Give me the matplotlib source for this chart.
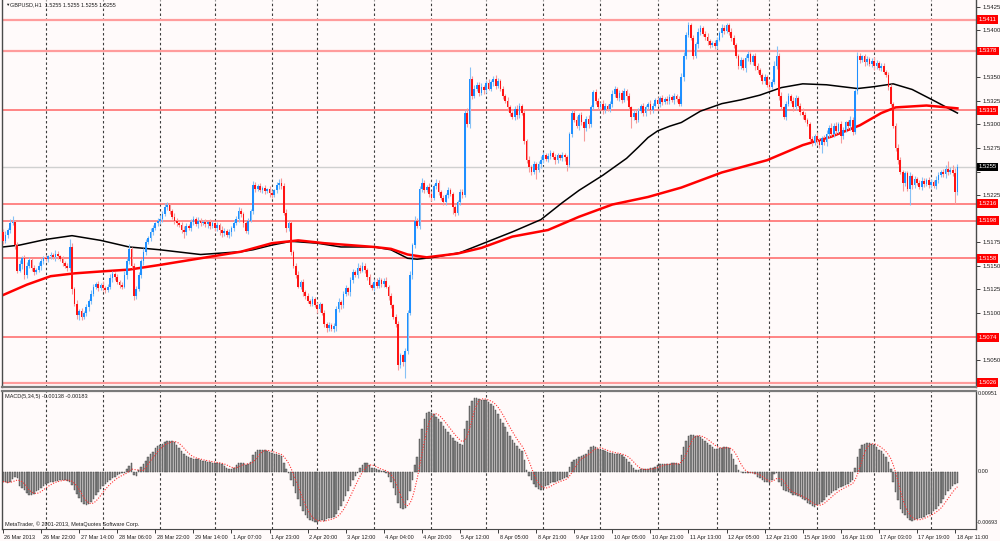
import numpy as np
import pandas as pd
import matplotlib
matplotlib.use("Agg")
from matplotlib import pyplot as plt
import matplotlib.transforms as mtransforms

plt.rcParams['font.family'] = ['Liberation Sans', 'DejaVu Sans']

# hourly closes of GBPUSD, in pips above 1.5000 (bar 0 = 26 Mar 2013 06:00)
first_open = 186
close_pips = [
    176, 183, 188, 195, 197, 172, 145, 152, 158, 140,
    150, 156, 148, 143, 146, 150, 155, 158, 157, 160,
    162, 159, 163, 160, 157, 153, 150, 148, 170, 125,
    110, 98, 102, 96, 100, 106, 113, 120, 128, 131,
    126, 130, 127, 124, 128, 137, 141, 138, 133, 130,
    128, 140, 155, 168, 150, 118, 125, 140, 155, 165,
    175, 180, 186, 190, 195, 198, 200, 205, 212, 214,
    208, 202, 198, 195, 193, 188, 186, 192, 190, 196,
    200, 194, 198, 195, 197, 194, 196, 192, 195, 190,
    193, 188, 185, 187, 183, 186, 190, 195, 200, 208,
    205, 195, 187, 198, 208, 236, 232, 235, 230, 233,
    229, 231, 227, 225, 230, 236, 238, 235, 206, 190,
    195, 165, 150, 140, 128, 133, 122, 118, 113, 110,
    115, 108, 104, 109, 100, 88, 84, 87, 83, 86,
    104, 112, 108, 120, 126, 122, 135, 143, 140, 148,
    145, 150, 146, 138, 130, 127, 133, 129, 135, 131,
    134, 128, 118, 108, 96, 88, 45, 55, 48, 60,
    100, 140, 172, 198, 192, 232, 238, 230, 234, 226,
    222, 235, 238, 228, 222, 218, 225, 230, 226, 212,
    206, 218, 228, 225, 312, 300, 348, 330, 338, 342,
    333, 340, 336, 344, 338, 345, 348, 341, 346, 338,
    330, 325, 318, 312, 308, 316, 310, 320, 312, 282,
    262, 255, 250, 258, 252, 258, 262, 268, 263, 266,
    270, 265, 262, 267, 264, 268, 265, 257, 290, 312,
    305, 298, 310, 302, 296, 306, 300, 318, 334, 325,
    318, 322, 315, 320, 316, 322, 332, 338, 328, 333,
    326, 335, 330, 318, 308, 312, 305, 314, 320, 312,
    318, 322, 315, 320, 326, 322, 328, 324, 327, 325,
    329, 326, 330, 327, 322, 350, 372, 395, 405, 392,
    372, 385, 398, 402, 396, 393, 388, 384, 386, 383,
    390, 397, 402, 399, 405, 398, 392, 384, 372, 362,
    368, 360, 370, 375, 366, 372, 362, 358, 352, 346,
    350, 342, 340, 345, 362, 373, 330, 318, 308, 322,
    330, 325, 318, 328, 320, 313, 310, 305, 300, 285,
    280, 288, 283, 278, 286, 281, 290, 296, 290, 298,
    293, 300, 288, 294, 302, 298, 305, 292, 335, 372,
    368, 372, 366, 369, 364, 367, 362, 365, 360, 362,
    356, 352, 340, 322, 298, 275, 262, 250, 238, 248,
    232, 245, 236, 242, 238, 234, 240, 237, 241, 236,
    239, 235, 241, 246, 250, 247, 253, 249, 252, 248,
    228, 255,
]

# upper / lower shadow lengths in pips
up_wick = [
    3, 4, 2, 5, 6, 2, 3, 4, 2, 3,  4, 3, 2, 3, 2, 4, 3, 2, 3, 2,
    3, 2, 4, 3, 2, 3, 2, 3, 8, 4,  3, 4, 2, 3, 2, 3, 2, 4, 3, 2,
    3, 2, 4, 2, 3, 4, 3, 2, 3, 2,  3, 4, 3, 5, 2, 3, 4, 3, 2, 4,
    3, 2, 4, 3, 2, 3, 4, 3, 5, 4,  3, 2, 4, 3, 2, 3, 4, 3, 2, 4,
    3, 2, 4, 3, 2, 3, 2, 4, 3, 2,  3, 2, 4, 3, 2, 3, 2, 4, 3, 4,
    3, 2, 4, 3, 2, 4, 3, 2, 3, 2,  3, 2, 4, 3, 2, 3, 4, 5, 3, 4,
    3, 4, 2, 3, 4, 2, 3, 2, 3, 2,  3, 2, 4, 3, 2, 3, 2, 3, 2, 3,
    3, 4, 2, 3, 4, 2, 3, 4, 3, 5,  3, 4, 3, 2, 3, 2, 3, 4, 3, 2,
    3, 4, 2, 3, 2, 3, 4, 3, 2, 3,  3, 4, 2, 5, 3, 3, 5, 3, 2, 4,
    3, 2, 4, 3, 2, 3, 2, 4, 3, 2,  3, 2, 4, 3, 3, 5, 13, 3, 4, 3,
    3, 4, 2, 3, 4, 2, 3, 4, 3, 2,  3, 2, 4, 3, 2, 4, 5, 3, 2, 3,
    3, 4, 2, 3, 2, 3, 4, 3, 2, 4,  3, 2, 4, 3, 2, 3, 2, 3, 2, 3,
    3, 4, 2, 3, 2, 3, 4, 3, 2, 3,  3, 2, 4, 3, 2, 3, 4, 3, 2, 3,
    3, 4, 2, 3, 2, 3, 4, 3, 2, 3,  3, 2, 4, 3, 2, 3, 2, 3, 2, 3,
    3, 2, 3, 2, 3, 4, 5, 3, 4, 3,  3, 2, 4, 3, 2, 3, 4, 3, 2, 3,
    3, 2, 4, 3, 3, 2, 4, 3, 2, 3,  3, 2, 4, 3, 2, 3, 4, 3, 2, 3,
    3, 2, 4, 3, 5, 10, 3, 4, 2, 3,  3, 2, 4, 3, 2, 3, 4, 3, 2, 3,
    3, 2, 4, 3, 2, 3, 4, 3, 5, 3,  4, 2, 4, 3, 2, 3, 4, 3, 2, 5,
    4, 2, 3, 3, 2, 3, 4, 3, 2, 3,  3, 2, 4, 3, 2, 3, 4, 3, 2, 3,
    3, 4, 2, 3, 2, 3, 4, 3, 2, 3,  3, 2, 4, 3, 2, 3, 4, 8, 3, 5,
    6, 3,
]
down_wick = [
    3, 2, 4, 3, 2, 4, 3, 2, 5, 4,  3, 2, 4, 3, 2, 3, 4, 3, 2, 3,
    3, 2, 4, 3, 2, 3, 2, 3, 4, 5,  3, 4, 5, 3, 2, 3, 4, 3, 2, 3,
    3, 2, 4, 3, 2, 3, 4, 3, 2, 3,  3, 2, 4, 3, 2, 4, 3, 2, 3, 4,
    3, 2, 4, 3, 2, 3, 4, 3, 2, 3,  3, 2, 4, 3, 2, 3, 7, 3, 2, 3,
    3, 2, 4, 3, 2, 3, 4, 3, 2, 3,  3, 5, 4, 3, 2, 3, 4, 3, 2, 3,
    3, 4, 2, 3, 2, 3, 4, 3, 2, 3,  3, 2, 4, 3, 2, 3, 4, 3, 2, 4,
    3, 4, 2, 3, 2, 3, 4, 3, 2, 3,  3, 2, 4, 3, 2, 3, 4, 3, 2, 3,
    5, 3, 4, 3, 2, 3, 4, 3, 2, 3,  3, 2, 4, 3, 2, 3, 4, 3, 2, 3,
    3, 2, 4, 3, 2, 3, 6, 3, 4, 17,  3, 2, 4, 3, 2, 3, 4, 3, 2, 3,
    3, 2, 4, 3, 2, 3, 4, 3, 2, 7,  3, 2, 4, 3, 2, 3, 4, 3, 2, 3,
    3, 2, 4, 3, 2, 3, 4, 3, 2, 3,  3, 2, 4, 3, 2, 3, 4, 3, 2, 3,
    3, 5, 4, 3, 10, 3, 4, 3, 2, 3,  3, 2, 4, 3, 2, 3, 4, 6, 2, 3,
    3, 2, 4, 3, 14, 3, 4, 3, 2, 3,  3, 2, 4, 3, 2, 3, 4, 3, 2, 3,
    3, 2, 4, 3, 12, 3, 4, 3, 2, 3,  3, 2, 4, 3, 2, 3, 4, 3, 2, 3,
    3, 2, 4, 3, 2, 3, 4, 3, 2, 3,  3, 2, 4, 3, 2, 3, 4, 3, 2, 3,
    3, 2, 4, 3, 2, 3, 4, 3, 2, 3,  3, 2, 4, 3, 2, 3, 4, 3, 2, 3,
    3, 2, 4, 3, 2, 3, 4, 3, 2, 3,  3, 2, 4, 3, 2, 3, 4, 3, 2, 3,
    3, 2, 4, 3, 8, 3, 4, 3, 2, 3,  3, 2, 8, 3, 2, 3, 4, 3, 2, 3,
    3, 2, 4, 3, 2, 3, 4, 3, 2, 3,  3, 2, 4, 3, 2, 3, 4, 3, 9, 3,
    3, 17, 4, 3, 2, 3, 4, 3, 2, 3,  3, 2, 4, 3, 2, 3, 4, 3, 2, 3,
    12, 3,
]

# MACD(5,34,5) main line, in units of 0.0001
macd_main = [
    -12, -13, -14, -13, -9, -7, -8, -17, -20, -22,
    -26, -28, -28, -27, -24, -22, -20, -18, -15, -14,
    -13, -12, -11, -11, -10, -10, -10, -11, -12, -16,
    -22, -27, -32, -37, -40, -41, -40, -37, -33, -29,
    -25, -21, -18, -15, -12, -10, -8, -6, -4, -3,
    -2, -2, 3, 7, 10, -4, -5, 2, 6, 9,
    13, 18, 21, 24, 29, 31, 33, 34, 36, 38,
    37, 37, 36, 33, 29, 25, 21, 19, 18, 17,
    16, 15, 15, 14, 13, 13, 12, 12, 11, 11,
    10, 10, 9, 7, 5, 3, 3, 5, 8, 10,
    11, 10, 8, 9, 12, 20, 24, 26, 27, 26,
    26, 25, 24, 23, 22, 21, 20, 19, 10, 3,
    -1, -10, -18, -26, -33, -42, -48, -53, -56, -59,
    -60, -61, -61, -60, -59, -60, -58, -57, -56, -55,
    -52, -47, -42, -36, -30, -24, -17, -10, -5, -1,
    5, 8, 10, 10, 8, 5, 4, 3, 2, 1,
    1, -1, -6, -12, -20, -28, -38, -44, -46, -44,
    -35, -24, -10, 8, 18, 40, 52, 64, 71, 73,
    72, 70, 67, 64, 60, 56, 52, 48, 45, 41,
    38, 36, 34, 33, 52, 62, 80, 86, 90, 90,
    89, 88, 88, 87, 85, 83, 80, 75, 70, 64,
    59, 54, 49, 44, 39, 35, 31, 28, 25, 14,
    2, -5, -10, -15, -19, -21, -22, -20, -18, -16,
    -14, -13, -12, -11, -10, -9, -8, -6, 6, 12,
    14, 16, 18, 19, 20, 22, 26, 30, 31, 30,
    28, 27, 26, 25, 24, 23, 23, 22, 22, 21,
    20, 18, 16, 12, 8, 5, 2, 2, 3, 3,
    3, 3, 4, 4, 6, 8, 9, 9, 9, 9,
    9, 10, 10, 10, 9, 20, 30, 38, 43, 45,
    45, 44, 43, 42, 40, 38, 35, 32, 30, 28,
    28, 29, 29, 30, 30, 29, 22, 16, 8, 2,
    0, -1, -1, -2, -1, -2, -3, -6, -8, -10,
    -12, -13, -14, -10, -3, -2, -12, -18, -22, -24,
    -25, -26, -28, -29, -30, -31, -33, -35, -38, -40,
    -42, -43, -41, -39, -37, -34, -31, -28, -26, -24,
    -22, -20, -19, -18, -16, -15, -13, -10, 4, 18,
    28, 32, 34, 35, 35, 34, 32, 30, 27, 25,
    22, 18, 12, 3, -12, -25, -35, -45, -50, -53,
    -57, -59, -60, -59, -58, -57, -56, -55, -53, -51,
    -50, -48, -45, -42, -38, -33, -28, -24, -21, -18,
    -15, -14,
]

# moving averages (bar index, pips above 1.5000)
black_ma_bar = [0, 7, 18, 29, 41, 53, 66, 83, 100, 105, 113, 121, 132, 142, 156, 163, 170,
                174, 181, 192, 198, 203, 214, 226, 235, 242, 252, 262, 267, 271, 275, 280,
                285, 293, 302, 310, 318, 327, 336, 346, 359, 366, 374, 382, 392, 401]
black_ma_val = [170, 172, 178, 182, 177, 170, 167, 162, 165, 167, 172, 176, 174, 170, 170, 167,
                158, 157, 159, 164, 170, 175, 186, 199, 217, 230, 246, 264, 276, 286, 293,
                298, 302, 314, 322, 326, 331, 339, 343, 342, 338, 340, 343, 337, 324, 312]
red_ma_bar = [0, 10, 20, 30, 41, 53, 66, 83, 100, 113, 124, 135, 156, 163, 170, 178, 191, 201,
              214, 229, 242, 256, 271, 285, 302, 321, 336, 348, 360, 369, 375, 388, 401]
red_ma_val = [119, 130, 139, 142, 144, 146, 151, 158, 165, 174, 177, 174, 170, 168, 162, 159,
              163, 169, 181, 188, 202, 215, 223, 233, 249, 262, 278, 287, 299, 312, 318, 320, 317]

levels = [1.5411, 1.5378, 1.5315, 1.5216, 1.5198, 1.5158, 1.5074, 1.5026]
last_price = 1.5255
day_starts = [18, 42, 66, 89, 113, 132, 156, 180, 203, 227, 251, 275, 300, 322, 342, 366, 390]
time_labels = ["26 Mar 2013", "26 Mar 22:00", "27 Mar 14:00", "28 Mar 06:00", "28 Mar 22:00",
               "29 Mar 14:00", "1 Apr 07:00", "1 Apr 23:00", "2 Apr 20:00", "3 Apr 12:00",
               "4 Apr 04:00", "4 Apr 20:00", "5 Apr 12:00", "8 Apr 05:00", "8 Apr 21:00",
               "9 Apr 13:00", "10 Apr 05:00", "10 Apr 21:00", "11 Apr 13:00", "12 Apr 05:00",
               "12 Apr 21:00", "15 Apr 19:00", "16 Apr 11:00", "17 Apr 03:00", "17 Apr 19:00",
               "18 Apr 11:00"]
price_ticks = [1.5025, 1.5050, 1.5075, 1.5100, 1.5125, 1.5150, 1.5175, 1.5200, 1.5225,
               1.5250, 1.5275, 1.5300, 1.5325, 1.5350, 1.5375, 1.5400, 1.5425]
macd_top_label = "0.00951"
macd_zero_label = "0.00"
macd_bottom_label = "-0.00693"

assert len(close_pips) == len(up_wick) == len(down_wick) == len(macd_main)

pip = 0.0001
close = 1.5 + np.array(close_pips) * pip
opens = np.r_[1.5 + first_open * pip, close[:-1]]
top = np.maximum(opens, close)
bot = np.minimum(opens, close)
high = top + np.array(up_wick) * pip
low = bot - np.array(down_wick) * pip
idx = np.arange(len(close))
bull = close >= opens

macd = np.array(macd_main) * pip
signal = pd.Series(macd).rolling(5, min_periods=1).mean()

bg = "#FFFAFA"
axis_col = "#4a4a4a"
txt_col = "#1e1e1e"

fig = plt.figure(figsize=(10, 5.41), dpi=100, facecolor=bg)
ax = fig.add_axes([0.002, 1 - 387 / 541, 0.974, 387 / 541], facecolor=bg)
ax2 = fig.add_axes([0.002, 1 - 529 / 541, 0.974, 138 / 541], facecolor=bg, sharex=ax)

ax.set_xlim(-0.42, 408.8)
ax.set_ylim(1.50215, 1.54319)
ax2.set_ylim(-0.006988, 0.009841)

# day grid
for a in (ax, ax2):
    a.vlines(day_starts, 0, 1, transform=a.get_xaxis_transform(), colors="#3c3c3c",
             linewidth=0.8, linestyles=(0, (2.2, 2.2)), zorder=0.5)

# levels and last price
for lvl in levels:
    lw = 1.6 if lvl > 1.537 or lvl < 1.503 else 1.1
    col = "#FF9C9C" if lw > 1.5 else "#FF6464"
    ax.axhline(lvl, color=col, linewidth=lw, zorder=1)
ax.axhline(last_price, color="#D0D0D0", linewidth=1.0, zorder=1)

# moving averages
ax.plot(black_ma_bar, 1.5 + np.array(black_ma_val) * pip, color="black", linewidth=1.1, zorder=2)
ax.plot(red_ma_bar, 1.5 + np.array(red_ma_val) * pip, color="#FF0000", linewidth=1.8, zorder=2)

# candles
wick_cols = np.where(bull, "#86C1F5", "#F59A9A")
body_cols = np.where(bull, "#1E8FFF", "#FF1414")
ax.vlines(idx, low, high, colors=wick_cols, linewidth=0.8, zorder=3)
ax.bar(idx, np.maximum(top - bot, 0.6 * pip), bottom=bot, width=0.72,
       color=body_cols, linewidth=0, zorder=4)

# MACD
ax2.bar(idx, macd, width=0.62, color="#8a8a8a", edgecolor="#3a3a3a", linewidth=0.3, zorder=2)
ax2.plot(idx, signal, color="#FF3030", linewidth=0.8, linestyle=(0, (1, 1.4)), zorder=3)

# spines
for a in (ax, ax2):
    a.spines["left"].set_color(axis_col)
    a.spines["right"].set_color(axis_col)
    a.spines["left"].set_linewidth(1.0)
    a.spines["right"].set_linewidth(1.0)
ax.spines["top"].set_visible(False)
ax.spines["bottom"].set_color("#7a7a7a")
ax.spines["bottom"].set_linewidth(1.6)
ax2.spines["top"].set_color("#7a7a7a")
ax2.spines["top"].set_linewidth(1.6)
ax2.spines["bottom"].set_color(axis_col)

# price axis: labels hidden behind a price box are left blank, as on the terminal
marks = levels + [last_price]
ax.yaxis.tick_right()
ax.set_yticks(price_ticks)
ax.set_yticklabels(["" if min(abs(t - m) for m in marks) < 0.00065 else f"{t:.4f}"
                    for t in price_ticks])
ax.tick_params(axis="y", length=3, width=0.6, pad=1.5, labelsize=4.3, colors=txt_col)
ax.tick_params(axis="x", bottom=False, labelbottom=False)

# MACD scale labels
ax2.yaxis.set_visible(False)
right_tr = mtransforms.blended_transform_factory(ax2.transAxes, ax2.transData)
ax2.text(1.002, 0.00951, macd_top_label, transform=right_tr,
         fontsize=4.0, color=txt_col, ha="left", va="center", clip_on=False)
ax2.text(1.002, 0.0, macd_zero_label, transform=right_tr,
         fontsize=4.0, color=txt_col, ha="left", va="center", clip_on=False)
ax2.text(1.001, 0.05, macd_bottom_label, transform=ax2.transAxes,
         fontsize=3.8, color=txt_col, ha="left", va="center", clip_on=False)

ax2.set_xticks(np.arange(0, 401, 16))
ax2.set_xticklabels(time_labels)
ax2.tick_params(axis="x", length=3, width=0.6, pad=1, labelsize=4.0, colors=txt_col)
shift = mtransforms.ScaledTranslation(1.5 / 100, 0, fig.dpi_scale_trans)
for lab in ax2.get_xticklabels():
    lab.set_ha("left")
    lab.set_transform(lab.get_transform() + shift)

# price boxes on the right scale
box_tr = mtransforms.blended_transform_factory(ax.transAxes, ax.transData)
for lvl in levels:
    ax.text(1.0025, lvl, f"{lvl:.4f}", transform=box_tr, ha="left", va="center",
            fontsize=4.3, color="white", clip_on=False, zorder=10,
            bbox=dict(boxstyle="square,pad=0.3", facecolor="#FF0000", edgecolor="none"))
ax.text(1.0025, last_price, f"{last_price:.4f}", transform=box_tr, ha="left", va="center",
        fontsize=4.3, color="white", clip_on=False, zorder=11,
        bbox=dict(boxstyle="square,pad=0.3", facecolor="#000000", edgecolor="none"))

# captions
ax.text(0.003, 0.987, "\u25bc", transform=ax.transAxes, fontsize=3.2, color=txt_col,
        ha="left", va="center")
ax.text(0.0085, 0.987, "GBPUSD,H1  1.5255 1.5255 1.5255 1.5255", transform=ax.transAxes,
        fontsize=4.0, color=txt_col, ha="left", va="center")
ax2.text(0.003, 0.957, "MACD(5,34,5) -0.00138 -0.00183", transform=ax2.transAxes,
         fontsize=4.0, color=txt_col, ha="left", va="center")
ax2.text(0.003, 0.035, "MetaTrader, \u00a9 2001-2013, MetaQuotes Software Corp.",
         transform=ax2.transAxes, fontsize=4.0, color=txt_col, ha="left", va="center")

fig.savefig("out.png", dpi=100, facecolor=bg)
